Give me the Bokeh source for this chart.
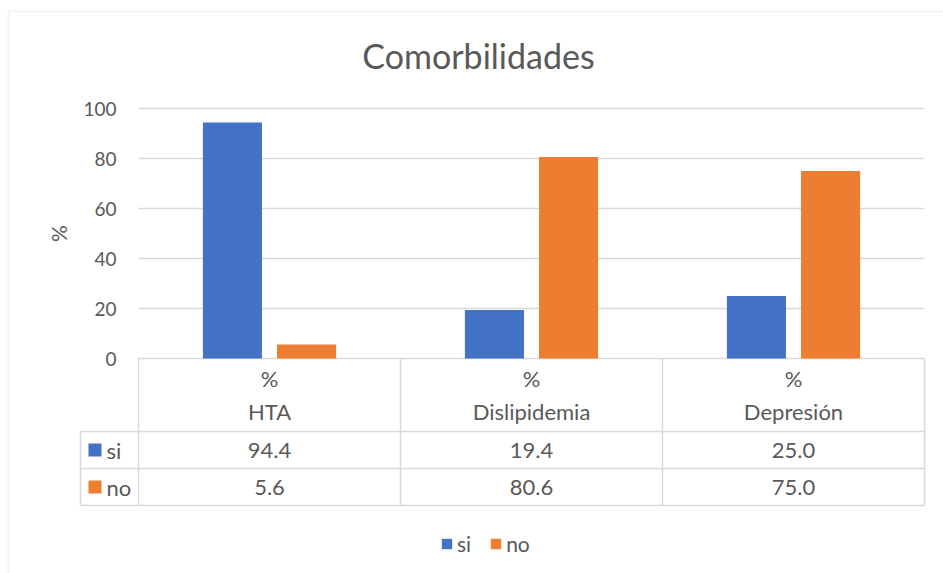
import math
from bokeh.plotting import figure
from bokeh.models import (Range1d, FixedTicker, Legend, LegendItem, BoxAnnotation, Label)
from bokeh.core.properties import value
from bokeh.embed import file_html
from bokeh.resources import INLINE

# ---------------- data ----------------
title_text = "Comorbilidades"
categories = ["HTA", "Dislipidemia", "Depresión"]
header_label = "%"
series_names = ["si", "no"]
si_values = [94.4, 19.4, 25.0]
no_values = [5.6, 80.6, 75.0]
y_ticks = [0, 20, 40, 60, 80, 100]
y_label = "%"

# ---------------- style / layout ----------------
BLUE = "#4472C4"
ORANGE = "#ED7D31"
GRID = "#D9D9D9"
TEXT = "#595959"
FONT = "Lato"

W, H = 943, 573
COL_PX = 262.0        # pixels per category column
X0_PX = 138.0         # left edge of first category column
Y0_PX = 358.0         # pixel row of value 0
Y_PX = 2.5            # pixels per percentage point


def xd(px):
    """layout helper: horizontal pixel -> x data units"""
    return (px - X0_PX) / COL_PX


def yd(py):
    """layout helper: vertical pixel -> y data units"""
    return (Y0_PX - py) / Y_PX


FRAME_L, FRAME_T = 6, 9
BAR_W = 0.2255
BAR_OFF = 0.1415

# table geometry (y data units)
ROW_HDR_PCT = yd(378)
ROW_HDR_CAT = yd(411)
ROW_LINE1 = yd(431)
ROW_SI = yd(449.5)
ROW_LINE2 = yd(468)
ROW_NO = yd(486.5)
ROW_LINE3 = yd(505)
LEFT_COL = xd(80)

p = figure(width=W, height=H, output_backend="svg", toolbar_location=None,
           x_range=Range1d(xd(FRAME_L), xd(W)),
           y_range=Range1d(yd(H), yd(FRAME_T)),
           x_axis_location=None,
           min_border_left=FRAME_L, min_border_right=0,
           min_border_top=FRAME_T, min_border_bottom=0)

p.outline_line_color = None
p.background_fill_color = "white"
p.border_fill_color = "white"
p.xgrid.visible = False
p.ygrid.visible = False

# y axis (tick labels only, drawn inside the chart area)
ax = p.yaxis[0]
ax.ticker = FixedTicker(ticks=y_ticks)
ax.axis_line_color = None
ax.major_tick_line_color = None
ax.minor_tick_line_color = None
ax.major_tick_out = 0
ax.major_tick_in = 0
ax.major_label_standoff = -(116 - FRAME_L)
ax.major_label_text_font = FONT
ax.major_label_text_font_size = "19px"
ax.major_label_text_color = TEXT

# outer chart border (left and top edges visible)
p.add_layout(BoxAnnotation(left=xd(8), right=xd(W + 50), top=yd(11), bottom=yd(H + 50),
                           fill_alpha=0, line_color=GRID, line_width=2, level="underlay"))

# gridlines (from the tick values)
n = len(categories)
p.segment(x0=[0] * len(y_ticks), x1=[n] * len(y_ticks), y0=y_ticks, y1=y_ticks,
          line_color=GRID, line_width=1.5)

# bars
x_si = [i + 0.5 - BAR_OFF for i in range(n)]
x_no = [i + 0.5 + BAR_OFF for i in range(n)]
r_si = p.vbar(x=x_si, top=si_values, width=BAR_W, bottom=0,
              fill_color=BLUE, line_color=None)
r_no = p.vbar(x=x_no, top=no_values, width=BAR_W, bottom=0,
              fill_color=ORANGE, line_color=None)

# ---------------- data table ----------------
hl = [ROW_LINE1, ROW_LINE2, ROW_LINE3]
p.segment(x0=[LEFT_COL] * 3, x1=[n] * 3, y0=hl, y1=hl, line_color=GRID, line_width=1.5)
p.segment(x0=list(range(n + 1)), x1=list(range(n + 1)),
          y0=[0] * (n + 1), y1=[ROW_LINE3] * (n + 1), line_color=GRID, line_width=1.5)
p.segment(x0=[LEFT_COL], x1=[LEFT_COL], y0=[ROW_LINE1], y1=[ROW_LINE3],
          line_color=GRID, line_width=1.5)

cx = [i + 0.5 for i in range(n)]
txt = dict(text_font=value(FONT), text_font_size="22px", text_color=TEXT,
           text_align="center", text_baseline="middle")
p.text(x=cx, y=[ROW_HDR_PCT] * n, text=[header_label] * n, **txt)
p.text(x=cx, y=[ROW_HDR_CAT] * n, text=categories, **txt)
p.text(x=cx, y=[ROW_SI] * n, text=[f"{v:.1f}" for v in si_values], **txt)
p.text(x=cx, y=[ROW_NO] * n, text=[f"{v:.1f}" for v in no_values], **txt)

# row keys of the table
p.scatter(x=[xd(94.5)] * 2, y=[ROW_SI, ROW_NO], marker="square", size=13,
          fill_color=[BLUE, ORANGE], line_color=None)
p.text(x=[xd(106)] * 2, y=[ROW_SI, ROW_NO], text=series_names,
       text_font=value(FONT), text_font_size="22px", text_color=TEXT,
       text_align="left", text_baseline="middle")

# y axis title
p.text(x=[xd(58)], y=[50], text=[y_label], angle=math.pi / 2,
       text_font=value(FONT), text_font_size="21px", text_color=TEXT,
       text_align="center", text_baseline="middle")

# chart title
p.add_layout(Label(x=xd(478), y=yd(55), text=title_text,
                   text_font=FONT, text_font_size="34px", text_color=TEXT,
                   text_align="center", text_baseline="middle"))

# legend
legend = Legend(items=[LegendItem(label=series_names[0], renderers=[r_si]),
                       LegendItem(label=series_names[1], renderers=[r_no])],
                orientation="horizontal", location=(440 - FRAME_L, H - 556),
                glyph_width=13, glyph_height=13, label_standoff=4, spacing=18,
                label_width=0, padding=0, margin=0,
                label_text_font=FONT, label_text_font_size="21px",
                label_text_color=TEXT, border_line_color=None,
                background_fill_alpha=0)
p.add_layout(legend, "center")

open("out.html", "w").write(file_html(p, INLINE))
